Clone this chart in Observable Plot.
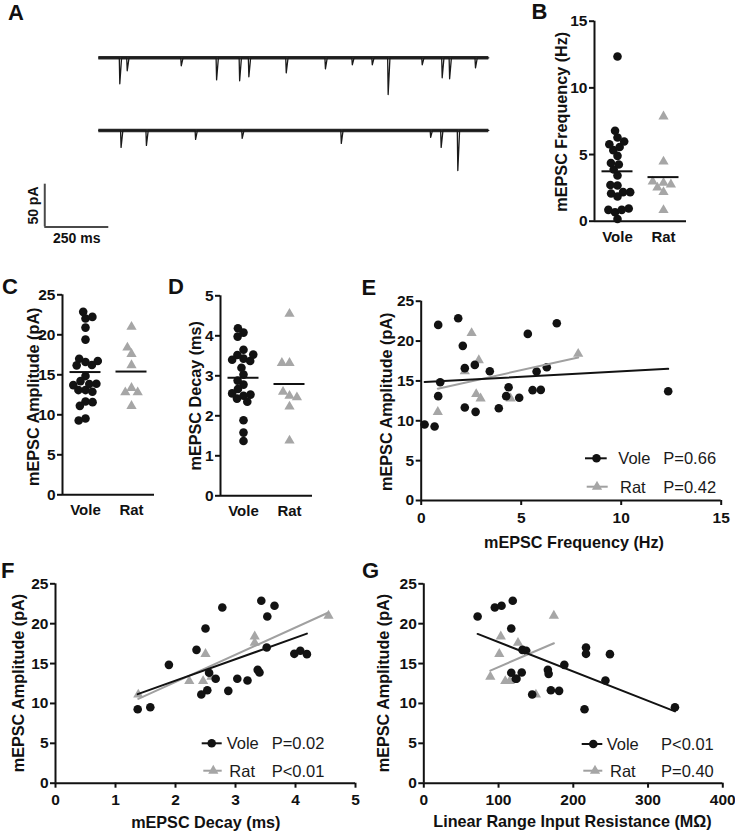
<!DOCTYPE html>
<html><head><meta charset="utf-8">
<script src="https://cdn.jsdelivr.net/npm/d3@7"></script>
<script src="https://cdn.jsdelivr.net/npm/@observablehq/plot@0.6"></script>
<style>
body{margin:0;background:#fff;}
#fig{position:relative;width:735px;height:837px;overflow:hidden;background:#fff;font-family:"Liberation Sans",Arial,Helvetica,sans-serif;}
.panel{position:absolute;}
#overlay{position:absolute;left:0;top:0;pointer-events:none;}
</style></head><body><div id="fig"></div>
<script>
// ---------------- DATA ----------------
const groups = ["Vole", "Rat"];
// Panel A: miniature events (time in ms, amplitude in pA)
const traceDuration = 1523;
const trace1Times = [82, 111, 322, 460, 550, 586, 732, 885, 990, 1068, 1130, 1263, 1341, 1370, 1471];
const trace1Amps  = [30.4, 15.2, 9.4, 25.8, 26.9, 22.2, 17.6, 12.9, 8.2, 8.2, 43, 8.2, 23.4, 24.6, 11.7];
const trace2Times = [87, 186, 378, 560, 947, 1296, 1337, 1402];
const trace2Amps  = [20, 17.6, 10.5, 9.4, 15.2, 8.2, 20, 47];
const scaleBarValues = [50, 250];               // pA, ms
const scaleBarLabels = ["50 pA", "250 ms"];

// Vole cells (same order in every array)
const voleFreq  = [0.17, 0.67, 0.85, 0.85, 0.95, 1.85, 2.08, 2.18, 2.18, 2.68, 2.72, 3.43, 3.88, 4.25, 4.37, 4.9, 5.33, 5.57, 5.77, 5.98, 6.28, 6.78, 12.35];
const voleAmp   = [9.53, 9.28, 22.03, 13.09, 14.84, 22.87, 19.4, 16.6, 11.66, 17.01, 11.12, 16.22, 11.58, 13.09, 14.21, 12.88, 20.9, 13.84, 16.18, 13.88, 16.72, 22.24, 13.71];
const voleDecay = [1.58, 1.37, 2.78, 2.67, 1.89, 3.43, 2.5, 4.08, 2.53, 3.52, 2.43, 3.98, 2.88, 3.03, 3.37, 3.2, 3.53, 2.56, 4.19, 3.4, 2.35, 3.65, null];
const voleRes   = [336, 215, 95, 123, 188, 119, 117, 137, 170, 217, 145, 217, 181, 124, 166, 243, 72, 117, 249, 131, 132, 104, 167];
// Rat cells
const ratFreq  = [0.83, 2.18, 2.52, 2.88, 2.75, 2.97, 4.47, 7.85];
const ratAmp   = [11.1, 16.2, 21.0, 17.6, 13.35, 12.8, 12.8, 18.4];
const ratDecay = [1.38, 2.5, 4.55, 3.32, 2.6, 2.23, 2.46, 3.32];
const ratRes   = [150, 101, 174, 126, 89, 109, 115, 103];

// Tick values
const freqTicks = [0, 5, 10, 15];
const ampTicks = [0, 5, 10, 15, 20, 25];
const decayTicks = [0, 1, 2, 3, 4, 5];
const resTicks = [0, 100, 200, 300, 400];

// Text
const titleFreq = "mEPSC Frequency (Hz)";
const titleAmp = "mEPSC Amplitude (pA)";
const titleDecay = "mEPSC Decay (ms)";
const titleRes = "Linear Range Input Resistance (MΩ)";
const pE = ["P=0.66", "P=0.42"];
const pF = ["P=0.02", "P<0.01"];
const pG = ["P<0.01", "P=0.40"];
const panelLetters = ["A", "B", "C", "D", "E", "F", "G"];

// ---------------- STYLE ----------------
const FONT = '"Liberation Sans", Arial, Helvetica, sans-serif';
const voleColor = "#121212";
const ratColor = "#a6a6a6";
const ratLine = "#a0a0a0";
const baseStyle = {fontFamily: FONT, fontSize: "15.5px", fontWeight: "bold", color: "#111",
  background: "transparent", overflow: "visible", maxWidth: "none"};
const TITLE = 16.2;
const fmt = d => String(d);

const fig = document.getElementById("fig");
function place(svg, left, top, width) {
  const d = document.createElement("div");
  d.className = "panel";
  d.style.left = left + "px"; d.style.top = top + "px"; d.style.width = width + "px";
  d.appendChild(svg);
  fig.appendChild(d);
}

// ---------------- PANEL A ----------------
(function () {
  const traces = [{times: trace1Times, amps: trace1Amps}, {times: trace2Times, amps: trace2Amps}];
  const traceOffsets = [0, -85];
  const verts = [];
  traces.forEach((tr, k) => {
    const off = traceOffsets[k];
    verts.push({trace: k, t: 0, i: off});
    tr.times.forEach((t, j) => {
      verts.push({trace: k, t: t - 2, i: off}, {trace: k, t, i: off - tr.amps[j]}, {trace: k, t: t + 7, i: off});
    });
    verts.push({trace: k, t: traceDuration, i: off});
  });
  const barX = -211, barY = -198; // scale bar anchor (layout)
  const svg = Plot.plot({
    width: 500, height: 255,
    marginLeft: 98.3, marginRight: 11.7, marginTop: 57.3, marginBottom: 155,
    style: baseStyle,
    x: {domain: [0, traceDuration], axis: null},
    y: {domain: [-50, 0], axis: null},
    marks: [
      Plot.ruleY(traceOffsets, {x1: 0, x2: traceDuration, stroke: "#2a2a2a", strokeWidth: 3.5}),
      Plot.line(verts, {x: "t", y: "i", z: "trace", stroke: "#1a1a1a", strokeWidth: 1.3}),
      Plot.ruleX([barX], {y1: barY, y2: barY + scaleBarValues[0], stroke: "#4a4a4a", strokeWidth: 2}),
      Plot.ruleY([barY], {x1: barX, x2: barX + scaleBarValues[1], stroke: "#4a4a4a", strokeWidth: 2}),
      Plot.text([scaleBarLabels[0]], {text: d => d, x: barX, y: barY + scaleBarValues[0] / 2, rotate: -90, dx: -11.3, textAnchor: "middle", lineAnchor: "middle", fontSize: 14}),
      Plot.text([scaleBarLabels[1]], {text: d => d, x: barX + scaleBarValues[1] / 2, y: barY, dy: 11.5, textAnchor: "middle", lineAnchor: "middle", fontSize: 14})
    ]
  });
  place(svg, 0, 0, 500);
})();

// ---------------- COLUMN PANELS (B, C, D) ----------------
function columnPanel(o) {
  const vole = o.vole.filter(v => v != null).map(v => ({g: "Vole", v}));
  const rat = o.rat.map(v => ({g: "Rat", v}));
  const all = vole.concat(rat);
  const svg = Plot.plot({
    width: o.width, height: o.height,
    marginLeft: o.ml, marginRight: o.mr, marginTop: o.mt, marginBottom: o.mb,
    style: baseStyle,
    fx: {domain: groups, padding: 0, label: null},
    x: {domain: [0, 1], axis: null},
    y: {domain: o.yDomain, label: null},
    marks: [
      Plot.axisFx({anchor: "bottom", tickSize: 0, tickPadding: 10, label: null, fontSize: 15}),
      Plot.axisY({ticks: o.yTicks, tickFormat: fmt, tickSize: 5, tickPadding: 2, strokeWidth: 2, label: null}),
      Plot.ruleX([{g: "Vole"}], {fx: "g", x: () => 0, strokeWidth: 2}),
      Plot.ruleY([0], {strokeWidth: 2}),
      Plot.dot(rat, Plot.dodgeX({anchor: "middle", padding: 0}, {fx: "g", y: "v", r: 3.8, symbol: "triangle", fill: ratColor})),
      Plot.dot(vole, Plot.dodgeX({anchor: "middle", padding: -1.5}, {fx: "g", y: "v", r: 4.3, fill: voleColor})),
      Plot.tickY(all, Plot.groupZ({y: "mean"}, {fx: "g", y: "v", strokeWidth: 2, insetLeft: 7.5, insetRight: 7.5, stroke: "#111"}))
    ]
  });
  place(svg, o.left, o.top, o.width);
}

columnPanel({left: 520, top: 0, width: 215, height: 255, ml: 72.7, mr: 48.3, mt: 20.7, mb: 34.3,
  yDomain: [0, 15], yTicks: freqTicks, vole: voleFreq, rat: ratFreq});
columnPanel({left: 0, top: 270, width: 180, height: 255, ml: 61.7, mr: 25, mt: 24.3, mb: 30.7,
  yDomain: [0, 25], yTicks: ampTicks, vole: voleAmp, rat: ratAmp});
columnPanel({left: 180, top: 270, width: 150, height: 255, ml: 39.3, mr: 17, mt: 25.3, mb: 29.7,
  yDomain: [0, 5], yTicks: decayTicks, vole: voleDecay, rat: ratDecay});

// ---------------- SCATTER PANELS (E, F, G) ----------------
function scatterPanel(o) {
  const vole = o.voleX.map((x, i) => ({x, y: o.voleY[i]})).filter(d => d.x != null);
  const rat = o.ratX.map((x, i) => ({x, y: o.ratY[i]}));
  const svg = Plot.plot({
    width: o.width, height: o.height,
    marginLeft: o.ml, marginRight: o.mr, marginTop: o.mt, marginBottom: o.mb,
    style: baseStyle,
    x: {domain: o.xDomain, label: null},
    y: {domain: o.yDomain, label: null},
    marks: [
      Plot.axisX({ticks: o.xTicks, tickFormat: fmt, tickSize: 5, tickPadding: 6, strokeWidth: 2, label: null}),
      Plot.axisY({ticks: o.yTicks, tickFormat: fmt, tickSize: 5, tickPadding: 2, strokeWidth: 2, label: null}),
      Plot.ruleX([o.xDomain[0]], {strokeWidth: 2}),
      Plot.ruleY([o.yDomain[0]], {strokeWidth: 2}),
      Plot.dot(rat, {x: "x", y: "y", r: 3.8, symbol: "triangle", fill: ratColor}),
      Plot.dot(vole, {x: "x", y: "y", r: 4.3, fill: voleColor}),
      Plot.linearRegressionY(rat, {x: "x", y: "y", ci: 0, stroke: ratLine, strokeWidth: 2}),
      Plot.linearRegressionY(vole, {x: "x", y: "y", ci: 0, stroke: voleColor, strokeWidth: 2})
    ]
  });
  place(svg, o.left, o.top, o.width);
}

scatterPanel({left: 330, top: 270, width: 405, height: 285, ml: 90.7, mr: 14.3, mt: 30.7, mb: 55,
  xDomain: [0, 15], xTicks: freqTicks, yDomain: [0, 25], yTicks: ampTicks,
  voleX: voleFreq, voleY: voleAmp, ratX: ratFreq, ratY: ratAmp});
scatterPanel({left: 0, top: 560, width: 370, height: 277, ml: 55, mr: 15, mt: 23.3, mb: 54.3,
  xDomain: [0, 5], xTicks: decayTicks, yDomain: [0, 25], yTicks: ampTicks,
  voleX: voleDecay, voleY: voleAmp, ratX: ratDecay, ratY: ratAmp});
scatterPanel({left: 365, top: 560, width: 370, height: 277, ml: 58.3, mr: 12.7, mt: 23.3, mb: 54.3,
  xDomain: [0, 400], xTicks: resTicks, yDomain: [0, 25], yTicks: ampTicks,
  voleX: voleRes, voleY: voleAmp, ratX: ratRes, ratY: ratAmp});

// ---------------- OVERLAY: titles, panel letters, legends ----------------
const ov = d3.select("#fig").append("svg").attr("id", "overlay").attr("width", 735).attr("height", 837)
  .style("font-family", FONT);
// axis titles: [text, centre x, centre y, rotated]
const titles = [
  [titleFreq, 561.2, 121.7, true],
  [titleAmp, 32.8, 396.7, true],
  [titleDecay, 195.5, 395.8, true],
  [titleAmp, 386.2, 401.7, true],
  [titleFreq, 574, 542, false],
  [titleAmp, 18.3, 683, true],
  [titleDecay, 205.8, 822, false],
  [titleAmp, 383.3, 683, true],
  [titleRes, 572.5, 821.5, false]
];
titles.forEach(([t, cx, cy, rot]) => {
  ov.append("text")
    .attr("transform", `translate(${cx},${cy})${rot ? " rotate(-90)" : ""}`)
    .attr("y", 0.358 * TITLE)
    .attr("text-anchor", "middle").attr("font-size", TITLE).attr("font-weight", "bold").attr("fill", "#111")
    .text(t);
});
const letterPos = [[8, 19.5], [531.5, 19.3], [2, 294], [168, 294], [361.5, 295], [1, 578], [362, 578]];
panelLetters.forEach((L, i) => {
  ov.append("text").attr("x", letterPos[i][0]).attr("y", letterPos[i][1])
    .attr("font-size", 22).attr("font-weight", "bold").attr("fill", "#111").text(L);
});
function legend(rows) {
  rows.forEach(r => {
    const isVole = r.label === "Vole";
    const col = isVole ? voleColor : ratColor;
    const lc = isVole ? voleColor : ratLine;
    ov.append("line").attr("x1", r.l1).attr("x2", r.l2).attr("y1", r.y).attr("y2", r.y)
      .attr("stroke", lc).attr("stroke-width", 2);
    if (isVole) ov.append("circle").attr("cx", r.m).attr("cy", r.y).attr("r", 4.3).attr("fill", col);
    else ov.append("path").attr("d", d3.symbol(d3.symbolTriangle, Math.PI * 3.8 * 3.8)())
      .attr("transform", `translate(${r.m},${r.y})`).attr("fill", col);
    ov.append("text").attr("x", r.tx).attr("y", r.y + 5.9).attr("font-size", 16.5).attr("fill", "#1a1a1a").text(r.label);
    ov.append("text").attr("x", r.px).attr("y", r.y + 5.9).attr("font-size", 16.5).attr("fill", "#1a1a1a").text(r.p);
  });
}
legend([
  {label: groups[0], p: pE[0], y: 458.3, l1: 585, l2: 606.7, m: 596.5, tx: 618.3, px: 663.3},
  {label: groups[1], p: pE[1], y: 486.7, l1: 586.7, l2: 607.7, m: 597, tx: 620, px: 663.3}
]);
legend([
  {label: groups[0], p: pF[0], y: 743.3, l1: 201.7, l2: 221.7, m: 211.7, tx: 226.7, px: 271.7},
  {label: groups[1], p: pF[1], y: 770.7, l1: 203.3, l2: 221.7, m: 213.3, tx: 229.3, px: 271.7}
]);
legend([
  {label: groups[0], p: pG[0], y: 744, l1: 581.7, l2: 602.3, m: 593.3, tx: 606.7, px: 661},
  {label: groups[1], p: pG[1], y: 770.7, l1: 583.3, l2: 602.3, m: 595, tx: 610, px: 661}
]);
</script></body></html>
